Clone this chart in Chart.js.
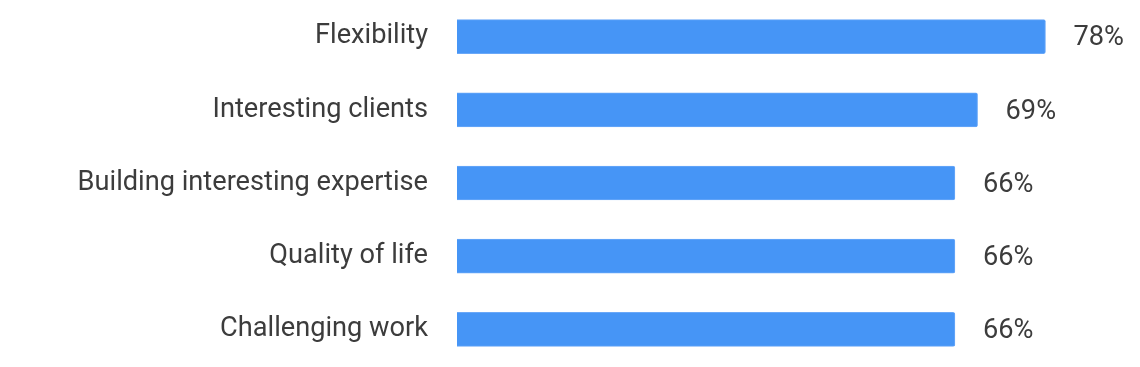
<!DOCTYPE html>
<html>
<head>
<meta charset="utf-8">
<script src="https://cdn.jsdelivr.net/npm/chart.js@4/dist/chart.umd.min.js"></script>
<style>
html,body{margin:0;padding:0;background:#fff;}
#wrap{width:1140px;height:367px;position:relative;}
</style>
</head>
<body>
<div id="wrap"><canvas id="c"></canvas></div>
<script>
const categories = ["Flexibility", "Interesting clients", "Building interesting expertise", "Quality of life", "Challenging work"];
const values = [78, 69, 66, 66, 66];
const valueLabels = ["78%", "69%", "66%", "66%", "66%"];

const valueLabelPlugin = {
  id: 'valueLabels',
  afterDatasetsDraw(chart) {
    const ctx = chart.ctx;
    const meta = chart.getDatasetMeta(0);
    ctx.save();
    ctx.font = '27.2px Roboto';
    ctx.fillStyle = '#3c3c3c';
    ctx.textAlign = 'left';
    ctx.textBaseline = 'middle';
    meta.data.forEach((bar, i) => {
      ctx.fillText(valueLabels[i], bar.x + 28, bar.y + 2);
    });
    ctx.restore();
  }
};

new Chart(document.getElementById('c'), {
  type: 'bar',
  data: {
    labels: categories,
    datasets: [{
      data: values,
      backgroundColor: '#4695f6',
      borderColor: '#6aa8f8',
      borderWidth: 1,
      borderRadius: 2,
      borderSkipped: 'start',
      barThickness: 34
    }]
  },
  options: {
    indexAxis: 'y',
    responsive: true,
    maintainAspectRatio: false,
    animation: false,
    layout: { padding: { top: 0, bottom: 1, left: 0, right: 4 } },
    plugins: { legend: { display: false }, tooltip: { enabled: false } },
    scales: {
      x: {
        min: 0, max: 90,
        display: false
      },
      y: {
        grid: { display: false, drawTicks: false },
        border: { display: false },
        ticks: {
          font: { family: 'Roboto', size: 27.2 },
          color: '#3c3c3c',
          padding: 29,
          labelOffset: 0
        },
        afterFit(scale) {
          scale.width = 457;
          scale.paddingTop = 0;
          scale.paddingBottom = 0;
        }
      }
    }
  },
  plugins: [valueLabelPlugin]
});
</script>
</body>
</html>
